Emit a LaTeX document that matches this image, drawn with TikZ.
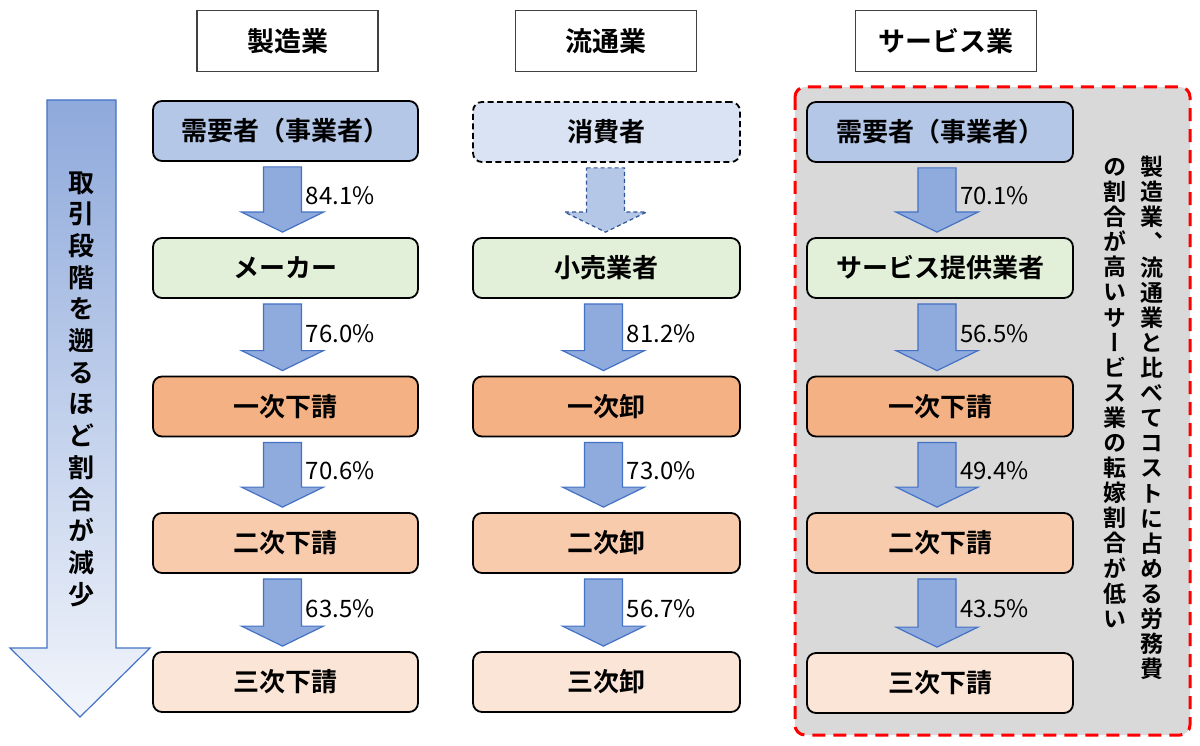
\documentclass[tikz,border=0pt]{standalone}
\usepackage{fontspec}
\newfontfamily\jp{Noto Sans CJK JP}[BoldFont={Noto Sans CJK JP Bold}]
\newfontfamily\jpv{Noto Sans CJK JP}[BoldFont={Noto Sans CJK JP Bold},RawFeature=+vert]
\usetikzlibrary{calc}
\definecolor{hdrline}{HTML}{404040}
\definecolor{bluebox}{HTML}{B4C7E7}
\definecolor{lightblue}{HTML}{DAE3F3}
\definecolor{greenbox}{HTML}{E2F0D9}
\definecolor{orange1}{HTML}{F4B183}
\definecolor{orange2}{HTML}{F8CBAD}
\definecolor{orange3}{HTML}{FBE5D6}
\definecolor{arrowfill}{HTML}{8FAADC}
\definecolor{arrowline}{HTML}{4472C4}
\definecolor{dasharrowline}{HTML}{2F5597}
\definecolor{bigtop}{HTML}{8EA9DB}
\definecolor{bigbottom}{HTML}{F2F5FB}
\definecolor{grayback}{HTML}{D9D9D9}
\definecolor{reddash}{HTML}{FF0000}
\newcommand\flowarrow[4][]{%
  \draw[blockarrow,#1] let \p1=($(#2.south)+(-3,0)$), \p2=(#3.north) in
    (\x1-19pt,\y1-5pt) -- (\x1+19pt,\y1-5pt) -- (\x1+19pt,\y2+25pt) --
    (\x1+41pt,\y2+25pt) -- (\x1,\y2+5pt) -- (\x1-41pt,\y2+25pt) --
    (\x1-19pt,\y2+25pt) -- cycle;
  \node[pct] (pct-#2) at ($(#2.south)!0.5!(#3.north)+(20,-4)$) {#4};}
\begin{document}
\begin{tikzpicture}[x=1pt,y=-1pt,
  header/.style={draw=hdrline,line width=1.5pt,fill=white,minimum width=181pt,
    minimum height=61pt,inner sep=0pt,font=\jp\bfseries\fontsize{27}{32}\selectfont},
  stepbox/.style={draw=black,line width=1.8pt,rounded corners=9pt,minimum width=265pt,
    minimum height=60pt,inner sep=0pt,font=\jp\bfseries\fontsize{26}{30}\selectfont},
  blockarrow/.style={fill=arrowfill,draw=arrowline,line width=1.2pt,line join=miter},
  pct/.style={anchor=west,inner sep=0pt,font=\jp\fontsize{24}{28}\selectfont},
  vlabel/.style={align=center,inner sep=0pt,font=\jpv\bfseries\fontsize{26}{31.7}\selectfont},
  vnote/.style={align=center,inner sep=0pt,font=\jpv\bfseries\fontsize{23}{25.1}\selectfont}]
\useasboundingbox (0,0) rectangle (1200,746);

% grey highlighted region
\draw[fill=grayback,draw=reddash,line width=3pt,dash pattern=on 13pt off 8pt,rounded corners=10pt]
  (795,87) rectangle (1190,735);

% big left arrow
\path[draw=arrowline,line width=1.2pt,top color=bigtop,bottom color=bigbottom,line join=miter]
  (47,100) -- (116,100) -- (116,648) -- (150,648) -- (80,717) -- (10,648) -- (47,648) -- cycle;
\node[vlabel] (leftlabel) at (81,389)
  {取\\引\\段\\階\\を\\遡\\る\\ほ\\ど\\割\\合\\が\\減\\少};

% headers
\node[header] (h1) at (287.5,41) {製造業};
\node[header] (h2) at (606,41) {流通業};
\node[header] (h3) at (946,41) {サービス業};

% column 1
\node[stepbox,fill=bluebox] (a1) at (285.5,131) {需要者（事業者）};
\node[stepbox,fill=greenbox] (a2) at (285.5,268) {メーカー};
\node[stepbox,fill=orange1] (a3) at (285.5,406.5) {一次下請};
\node[stepbox,fill=orange2] (a4) at (285.5,543) {二次下請};
\node[stepbox,fill=orange3] (a5) at (285.5,682) {三次下請};

% column 2
\node[stepbox,fill=lightblue,minimum width=267pt,dash pattern=on 6pt off 3.5pt] (b1) at (606.5,132) {消費者};
\node[stepbox,fill=greenbox,minimum width=267pt] (b2) at (606.5,268) {小売業者};
\node[stepbox,fill=orange1,minimum width=267pt] (b3) at (606.5,406.5) {一次卸};
\node[stepbox,fill=orange2,minimum width=267pt] (b4) at (606.5,543) {二次卸};
\node[stepbox,fill=orange3,minimum width=267pt] (b5) at (606.5,682) {三次卸};

% column 3
\node[stepbox,fill=bluebox,minimum width=266pt] (c1) at (940,132) {需要者（事業者）};
\node[stepbox,fill=greenbox,minimum width=266pt] (c2) at (940,268) {サービス提供業者};
\node[stepbox,fill=orange1,minimum width=266pt] (c3) at (940,406.5) {一次下請};
\node[stepbox,fill=orange2,minimum width=266pt] (c4) at (940,543) {二次下請};
\node[stepbox,fill=orange3,minimum width=266pt] (c5) at (940,683) {三次下請};

% arrows column 1
\flowarrow{a1}{a2}{84.1\%}
\flowarrow{a2}{a3}{76.0\%}
\flowarrow{a3}{a4}{70.6\%}
\flowarrow{a4}{a5}{63.5\%}

% arrows column 2
\draw[blockarrow,fill=bluebox,draw=dasharrowline,dash pattern=on 4pt off 3pt]
  let \p1=($(b1.south)+(-1,0)$), \p2=(b2.north) in
    (\x1-19pt,\y1-5pt) -- (\x1+19pt,\y1-5pt) -- (\x1+19pt,\y2+25pt) --
    (\x1+41pt,\y2+25pt) -- (\x1,\y2+5pt) -- (\x1-41pt,\y2+25pt) --
    (\x1-19pt,\y2+25pt) -- cycle;
\flowarrow{b2}{b3}{81.2\%}
\flowarrow{b3}{b4}{73.0\%}
\flowarrow{b4}{b5}{56.7\%}

% arrows column 3
\flowarrow{c1}{c2}{70.1\%}
\flowarrow{c2}{c3}{56.5\%}
\flowarrow{c3}{c4}{49.4\%}
\flowarrow{c4}{c5}{43.5\%}

% vertical note
\node[vnote] (note1) at (1152,418)
  {製\\造\\業\\、\\流\\通\\業\\と\\比\\べ\\て\\コ\\ス\\ト\\に\\占\\め\\る\\労\\務\\費};
\node[vnote] (note2) at (1115,393)
  {の\\割\\合\\が\\高\\い\\サ\\ー\\ビ\\ス\\業\\の\\転\\嫁\\割\\合\\が\\低\\い};
\end{tikzpicture}
\end{document}
